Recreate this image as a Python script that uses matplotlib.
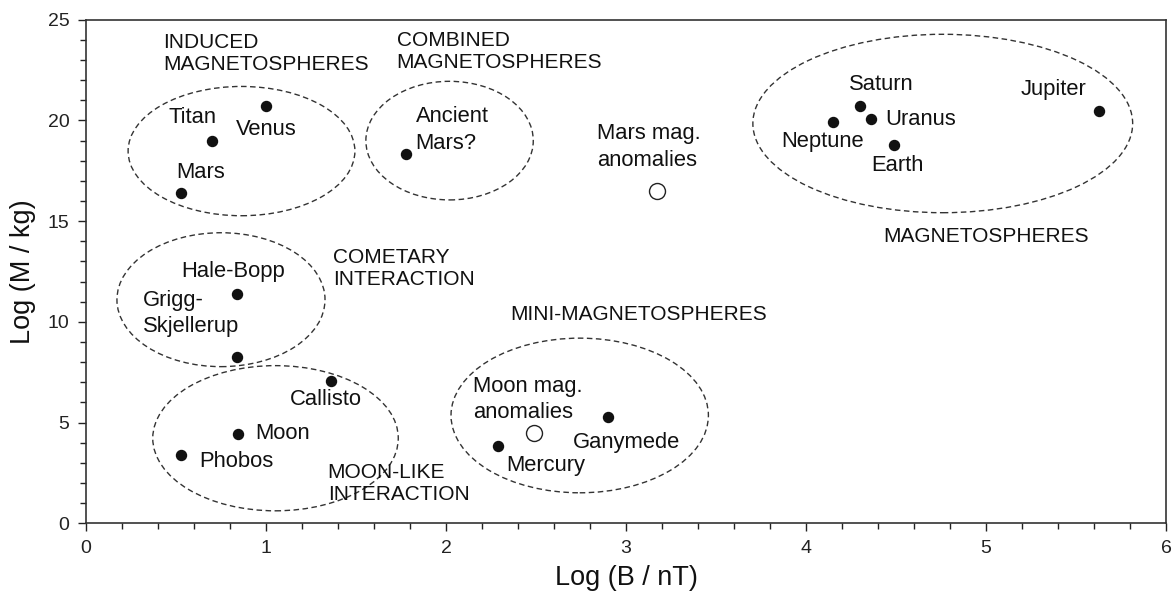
import matplotlib
matplotlib.use("Agg")
import matplotlib.pyplot as plt
from matplotlib.patches import Ellipse
from matplotlib.ticker import MultipleLocator

plt.rcParams['font.family'] = ['Liberation Sans', 'DejaVu Sans']

# bodies: log B (nT), log M (kg)
filled_x = [0.70, 1.00, 0.53, 0.84, 0.84, 1.36, 0.845, 0.53, 2.90, 2.29, 1.78, 4.30, 4.36, 4.15, 4.49, 5.63]
filled_y = [19.0, 20.7, 16.4, 11.4, 8.26, 7.07, 4.43, 3.38, 5.26, 3.83, 18.36, 20.7, 20.05, 19.9, 18.77, 20.46]
open_x = [2.49, 3.17]
open_y = [4.46, 16.48]

# dashed group ellipses: centre x, centre y, width, height
ell_x = [0.864, 2.02, 4.76, 0.75, 1.053, 2.743]
ell_y = [18.48, 19.0, 19.85, 11.1, 4.22, 5.35]
ell_w = [1.26, 0.93, 2.11, 1.156, 1.364, 1.43]
ell_h = [6.42, 5.89, 8.86, 6.65, 7.21, 7.68]

# object labels
body_names = ["Titan", "Venus", "Mars", "Hale-Bopp", "Grigg-\nSkjellerup", "Callisto", "Moon", "Phobos",
              "Moon mag.\nanomalies", "Mercury", "Ganymede", "Ancient\nMars?", "Mars mag.\nanomalies",
              "Saturn", "Jupiter", "Uranus", "Neptune", "Earth"]
body_lx = [0.456, 0.833, 0.504, 0.528, 0.318, 1.13, 0.94, 0.628,
           2.152, 2.333, 2.707, 1.832, 2.837,
           4.24, 5.19, 4.44, 3.86, 4.36]
body_ly = [20.15, 19.55, 17.43, 12.5, 10.4, 6.12, 4.43, 3.05,
           6.13, 2.89, 4.0, 19.53, 18.68,
           21.79, 21.54, 20.05, 18.97, 17.78]

# group labels
group_names = ["INDUCED\nMAGNETOSPHERES", "COMBINED\nMAGNETOSPHERES", "MAGNETOSPHERES",
               "COMETARY\nINTERACTION", "MOON-LIKE\nINTERACTION", "MINI-MAGNETOSPHERES"]
group_lx = [0.43, 1.726, 4.43, 1.374, 1.343, 2.356]
group_ly = [23.35, 23.45, 14.24, 12.66, 1.97, 10.35]

fig = plt.figure(figsize=(11.73, 6.0), dpi=100)
ax = fig.add_axes([0.0733, 0.128, 0.9207, 0.839])

for cx, cy, w, h in zip(ell_x, ell_y, ell_w, ell_h):
    ax.add_patch(Ellipse((cx, cy), w, h, fill=False, ls=(0, (4, 2.5)), lw=1.0, color='#333333'))

ax.plot(filled_x, filled_y, 'o', color='#111111', ms=7.2, ls='none')
ax.plot(open_x, open_y, 'o', mfc='white', mec='#222222', mew=1.0, ms=11.5, ls='none')

for name, x, y in zip(body_names, body_lx, body_ly):
    ax.text(x, y, name, fontsize=15.8, color='#111111', va='center', ha='left', linespacing=1.32)
for name, x, y in zip(group_names, group_lx, group_ly):
    ax.text(x, y, name, fontsize=15, color='#111111', va='center', ha='left', linespacing=1.2)

ax.set_xlim(0, 6)
ax.set_ylim(0, 25)
ax.xaxis.set_major_locator(MultipleLocator(1))
ax.xaxis.set_minor_locator(MultipleLocator(0.2))
ax.yaxis.set_major_locator(MultipleLocator(5))
ax.yaxis.set_minor_locator(MultipleLocator(1))
ax.tick_params(which='major', direction='out', length=6, width=1, labelsize=14, colors='#222222', pad=6)
ax.tick_params(which='minor', direction='out', length=4, width=1, colors='#222222')
for s in ax.spines.values():
    s.set_color('#333333')
    s.set_linewidth(1.2)

ax.set_xlabel("Log (B / nT)", fontsize=19.5, color='#111111', labelpad=6)
ax.set_ylabel("Log (M / kg)", fontsize=19.5, color='#111111', labelpad=8)

fig.savefig("out.png", dpi=100)
